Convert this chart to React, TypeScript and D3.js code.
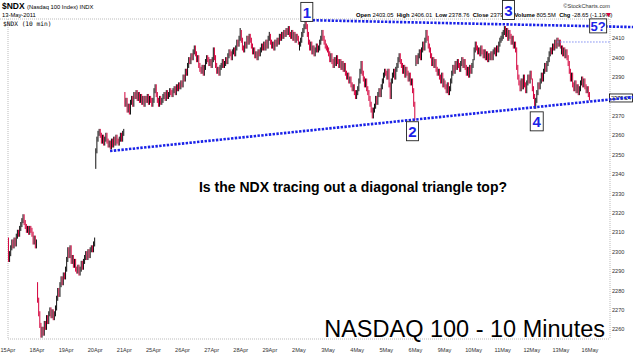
import React from "react";
import * as d3 from "d3";

// Session labels (x axis), one per trading day; the last one is the next session
const dayLabels = ["15Apr", "18Apr", "19Apr", "20Apr", "21Apr", "25Apr", "26Apr", "27Apr", "28Apr", "29Apr",
  "2May", "3May", "4May", "5May", "6May", "9May", "10May", "11May", "12May", "13May", "16May"];

// Each session: [open, then closes of successive intraday bars]
const apr15 = [2306, 2296, 2299, 2302, 2305, 2303, 2306, 2304, 2308, 2310, 2309, 2312, 2314, 2316, 2318, 2315, 2313, 2311, 2312, 2310, 2312, 2311, 2309, 2305, 2307, 2303, 2305];
const apr18 = [2283, 2275, 2268, 2262, 2257, 2260, 2258, 2263, 2261, 2266, 2264, 2268, 2270, 2267, 2269, 2266, 2268, 2271, 2276, 2280, 2278, 2283, 2286, 2284, 2288, 2287, 2291];
const apr19 = [2291, 2296, 2301, 2298, 2302, 2295, 2297, 2293, 2295, 2291, 2290, 2292, 2289, 2291, 2294, 2292, 2295, 2297, 2299, 2297, 2300, 2298, 2301, 2302, 2301, 2304, 2306];
const apr20 = [2344, 2352, 2358, 2361, 2362, 2360, 2357, 2359, 2356, 2358, 2360, 2357, 2355, 2356, 2354, 2357, 2355, 2358, 2356, 2359, 2357, 2356, 2358, 2360, 2358, 2361, 2362];
const apr21 = [2381, 2376, 2378, 2373, 2375, 2372, 2377, 2379, 2376, 2381, 2380, 2382, 2379, 2381, 2378, 2380, 2377, 2379, 2376, 2379, 2378, 2380, 2377, 2379, 2378, 2376, 2378];
const apr25 = [2378, 2383, 2385, 2381, 2378, 2376, 2379, 2377, 2378, 2380, 2381, 2379, 2382, 2380, 2381, 2383, 2382, 2381, 2383, 2384, 2382, 2385, 2384, 2386, 2385, 2387, 2386];
const apr26 = [2386, 2390, 2389, 2393, 2392, 2396, 2399, 2398, 2401, 2400, 2403, 2405, 2402, 2399, 2400, 2396, 2394, 2393, 2395, 2392, 2395, 2398, 2400, 2399, 2397, 2398, 2396];
const apr27 = [2396, 2399, 2404, 2400, 2396, 2393, 2394, 2392, 2395, 2396, 2398, 2396, 2397, 2399, 2398, 2401, 2403, 2402, 2400, 2403, 2404, 2402, 2405, 2408, 2407, 2410, 2414];
const apr28 = [2413, 2409, 2405, 2404, 2407, 2406, 2410, 2408, 2411, 2409, 2406, 2403, 2404, 2401, 2402, 2400, 2403, 2402, 2404, 2406, 2405, 2407, 2405, 2408, 2406, 2410, 2412];
const apr29 = [2411, 2408, 2406, 2407, 2405, 2408, 2407, 2409, 2408, 2411, 2410, 2412, 2411, 2413, 2412, 2414, 2413, 2415, 2412, 2411, 2413, 2410, 2412, 2409, 2411, 2410, 2408];
const may02 = [2405, 2407, 2409, 2412, 2414, 2416, 2419, 2416, 2412, 2408, 2405, 2407, 2403, 2405, 2402, 2404, 2406, 2404, 2405, 2408, 2410, 2413, 2410, 2408, 2406, 2405, 2404];
const may03 = [2404, 2402, 2399, 2401, 2398, 2396, 2399, 2397, 2400, 2398, 2396, 2398, 2395, 2397, 2394, 2396, 2392, 2390, 2391, 2388, 2389, 2386, 2384, 2385, 2382, 2380, 2382];
const may04 = [2382, 2384, 2388, 2393, 2397, 2392, 2389, 2386, 2388, 2384, 2382, 2379, 2376, 2373, 2370, 2373, 2375, 2379, 2377, 2381, 2383, 2381, 2385, 2388, 2391, 2393, 2392];
const may05 = [2392, 2390, 2393, 2386, 2380, 2388, 2391, 2393, 2390, 2394, 2396, 2399, 2401, 2398, 2396, 2393, 2395, 2391, 2394, 2392, 2389, 2391, 2387, 2388, 2383, 2376, 2369];
const may06 = [2397, 2400, 2398, 2401, 2403, 2400, 2404, 2407, 2405, 2409, 2413, 2410, 2406, 2404, 2401, 2397, 2399, 2396, 2398, 2394, 2392, 2393, 2390, 2388, 2391, 2386, 2388];
const may09 = [2387, 2385, 2383, 2386, 2382, 2384, 2388, 2392, 2395, 2393, 2397, 2395, 2398, 2396, 2394, 2397, 2399, 2396, 2398, 2395, 2392, 2394, 2391, 2395, 2393, 2396, 2398];
const may10 = [2400, 2404, 2407, 2405, 2403, 2404, 2402, 2405, 2403, 2401, 2403, 2400, 2402, 2399, 2401, 2400, 2402, 2400, 2403, 2404, 2402, 2405, 2404, 2407, 2409, 2410, 2412];
const may11 = [2411, 2413, 2415, 2412, 2414, 2410, 2413, 2411, 2408, 2410, 2406, 2407, 2404, 2395, 2390, 2387, 2384, 2388, 2385, 2390, 2386, 2383, 2387, 2390, 2388, 2392, 2390];
const may12 = [2388, 2384, 2380, 2375, 2378, 2382, 2386, 2385, 2388, 2391, 2389, 2393, 2396, 2394, 2397, 2399, 2402, 2404, 2403, 2406, 2405, 2408, 2406, 2409, 2407, 2408, 2406];
const may13 = [2403, 2405, 2402, 2404, 2401, 2403, 2400, 2397, 2393, 2389, 2391, 2386, 2384, 2387, 2383, 2385, 2382, 2384, 2387, 2389, 2386, 2388, 2385, 2383, 2384, 2381, 2379.24];

const sessions = [apr15, apr18, apr19, apr20, apr21, apr25, apr26, apr27, apr28, apr29,
  may02, may03, may04, may05, may06, may09, may10, may11, may12, may13];

const yTicks = [2260, 2270, 2280, 2290, 2300, 2310, 2320, 2330, 2340, 2350, 2360, 2370, 2380, 2390, 2400, 2410];
const lastClose = 2379.24;

// Trend lines (session position, price)
const upperTrend = [{ day: 10.21, price: 2419.4 }, { day: 21.48, price: 2415.8 }];
const lowerTrend = [{ day: 3.51, price: 2351.9 }, { day: 21.48, price: 2379.7 }];
const resistance = { fromDay: 18.87, price: 2408.1 };

// Wave labels (session position, price)
const waveLabels = [
  { label: "1", day: 10.27, price: 2423.6, w: 12 },
  { label: "2", day: 13.9, price: 2362.1, w: 12 },
  { label: "3", day: 17.2, price: 2424.6, w: 12 },
  { label: "4", day: 18.17, price: 2367.2, w: 13 },
  { label: "5?", day: 20.28, price: 2416.4, w: 17 },
];

const headerValues = [
  ["Open", "2403.05"], ["High", "2406.01"], ["Low", "2378.76"], ["Close", "2379.24"],
  ["Volume", "805.5M"], ["Chg", "-28.65 (-1.19%)"],
];

const W = 633, H = 355;
const PLOT = { left: 8, right: 610, top: 19, bottom: 339 };

export default function App() {
  const x = d3.scaleLinear().domain([0, 20]).range([7.9, 590]);
  const y = d3.scaleLinear().domain([2260, 2410]).range([329.3, 38.3]);
  const wick = 1.3;
  const blue = "#1a22e8";
  const red = "#d4003c";

  const bars: JSX.Element[] = [];
  sessions.forEach((s, di) => {
    const n = s.length - 1;
    for (let k = 0; k < n; k++) {
      const o = s[k];
      const c = s[k + 1];
      const xx = x(di + (k + 0.5) / n);
      const hi = Math.max(o, c) + wick;
      const lo = Math.min(o, c) - wick;
      bars.push(
        <line key={`b${di}-${k}`} x1={xx} x2={xx} y1={y(hi)} y2={y(lo)}
          stroke={c >= o ? "#111" : red} strokeWidth={1} />
      );
    }
  });

  const font = "'Liberation Sans', Arial, sans-serif";
  const headerParts: JSX.Element[] = [];
  headerValues.forEach(([k, v], i) => {
    headerParts.push(<tspan key={`k${i}`} fontWeight="bold">{k} </tspan>);
    headerParts.push(<tspan key={`v${i}`}>{v}  </tspan>);
  });

  const boxTop = y(lastClose) - 4;
  const boxBottom = y(lastClose) + 4;

  return (
    <svg width={W} height={H} style={{ position: "absolute", left: 0, top: 0, background: "#fff" }}
      fontFamily={font}>
      <rect x={0} y={0} width={W} height={H} fill="#fff" />
      {/* frame */}
      <line x1={0} x2={PLOT.right} y1={PLOT.top} y2={PLOT.top} stroke="#aaa" strokeWidth={0.8} strokeDasharray="1 1" />
      <line x1={PLOT.left} x2={PLOT.right} y1={PLOT.bottom} y2={PLOT.bottom} stroke="#aaa" strokeWidth={0.8} strokeDasharray="1 1" />
      <line x1={PLOT.left} x2={PLOT.left} y1={PLOT.top} y2={PLOT.bottom} stroke="#aaa" strokeWidth={0.8} strokeDasharray="1 1" />
      <line x1={PLOT.right} x2={PLOT.right} y1={PLOT.top} y2={PLOT.bottom} stroke="#aaa" strokeWidth={0.8} strokeDasharray="1 1" />

      {/* header */}
      <text x={2} y={9} fontSize={8.5} fontWeight="bold">$NDX <tspan fontSize={5.8} fontWeight="normal">(Nasdaq 100 Index) INDX</tspan></text>
      <text x={2} y={17} fontSize={5.8}>13-May-2011</text>
      <text x={3} y={26} fontSize={6.2} fontFamily="'DejaVu Sans Mono', monospace">$NDX (10 min)</text>
      <text x={610} y={8} fontSize={5.6} textAnchor="end" fill="#333">©StockCharts.com</text>
      <text x={356} y={17} fontSize={5.8} xmlSpace="preserve">{headerParts}</text>
      <path d="M606,13 L611,13 L608.5,17 Z" fill={red} />

      {/* bars */}
      <g>{bars}</g>

      {/* y axis */}
      {yTicks.filter((t) => y(t) + 3 < boxTop || y(t) - 3 > boxBottom).map((t) => (
        <text key={t} x={612} y={y(t) + 2} fontSize={5.6} fill="#333">{t}</text>
      ))}

      {/* x axis */}
      {dayLabels.map((d, i) => (
        <text key={d} x={Math.max(x(i), 6.5)} y={352} fontSize={5.6} fill="#333" textAnchor="middle">{d}</text>
      ))}

      {/* trend lines */}
      <line x1={x(upperTrend[0].day)} y1={y(upperTrend[0].price)} x2={x(upperTrend[1].day)} y2={y(upperTrend[1].price)}
        stroke={blue} strokeWidth={2.6} strokeDasharray="2.4 1.4" />
      <line x1={x(resistance.fromDay)} y1={y(resistance.price)} x2={PLOT.right} y2={y(resistance.price)}
        stroke="#7d8cf0" strokeWidth={1} strokeDasharray="1.5 1.5" />

      {/* last price box */}
      <rect x={609.5} y={boxTop} width={23} height={8} fill="#fff" stroke="#000" strokeWidth={0.8} />
      <text x={611} y={y(lastClose) + 2.2} fontSize={5.6} fill="#000">{lastClose.toFixed(2)}</text>
      <line x1={x(lowerTrend[0].day)} y1={y(lowerTrend[0].price)} x2={x(lowerTrend[1].day)} y2={y(lowerTrend[1].price)}
        stroke={blue} strokeWidth={2.6} strokeDasharray="2.4 1.4" />

      {/* wave labels */}
      {waveLabels.map((a) => {
        const cx = x(a.day), cy = y(a.price);
        const h = a.label.length > 1 ? 14 : 19;
        return (
          <g key={a.label}>
            <rect x={cx - a.w / 2} y={cy - h / 2} width={a.w} height={h} fill="#fff" stroke="#222" strokeWidth={0.9} />
            <text x={cx} y={cy + (a.label.length > 1 ? 5 : 6)} fontSize={a.label.length > 1 ? 13 : 15} fontWeight="bold"
              fill={blue} textAnchor="middle">{a.label}</text>
          </g>
        );
      })}

      {/* annotations */}
      <text x={353} y={192} fontSize={14} fontWeight="bold" textAnchor="middle" fill="#000">
        Is the NDX tracing out a diagonal triangle top?
      </text>
      <text x={605} y={337} fontSize={23.5} textAnchor="end" fill="#000">NASDAQ 100 - 10 Minutes</text>
    </svg>
  );
}
